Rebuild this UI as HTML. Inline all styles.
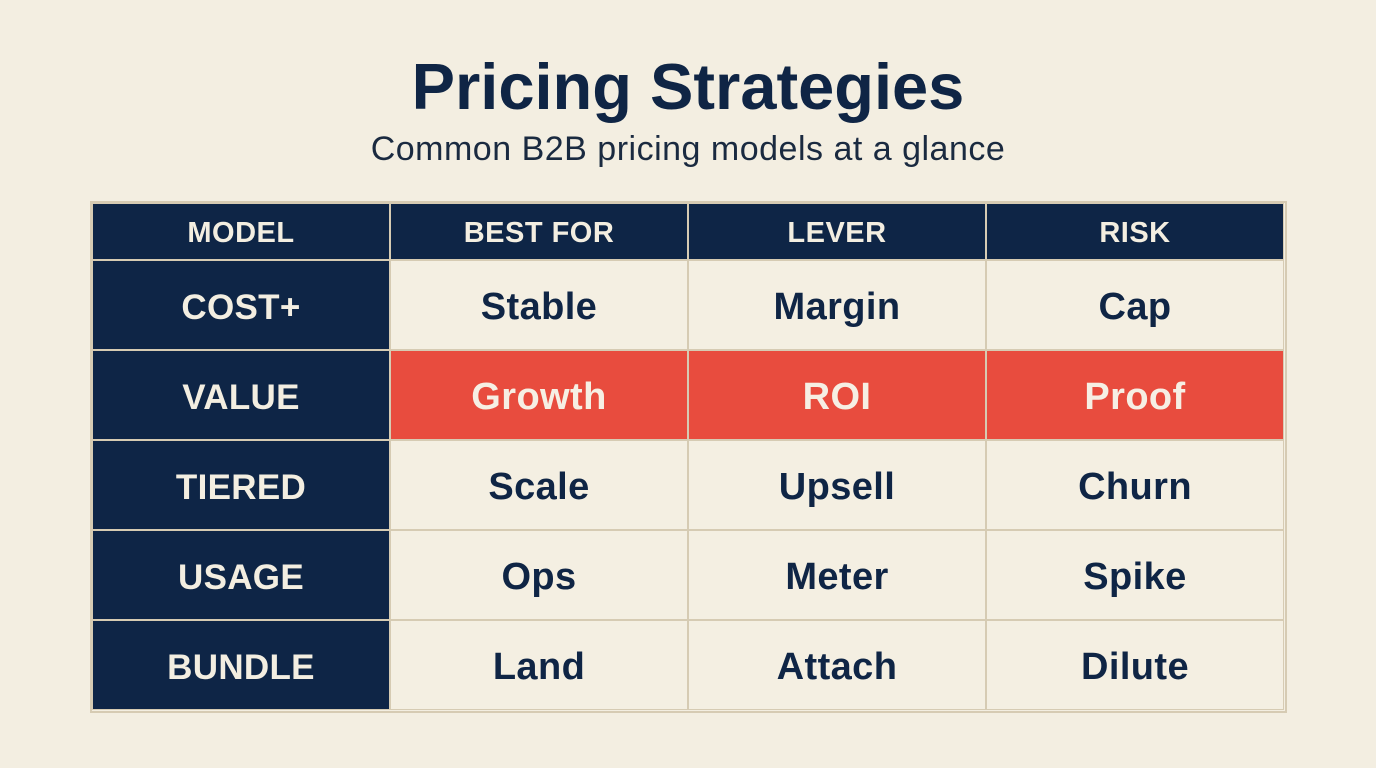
<!DOCTYPE html>
<html><head><meta charset="utf-8"><style>
body{margin:0;width:1376px;height:768px;background:#f3eee1;font-family:"Liberation Sans",sans-serif;position:relative;overflow:hidden}
h1{position:absolute;top:49px;left:0;width:1376px;text-align:center;margin:0;font-size:65px;font-weight:bold;color:#0f2545;line-height:76px}
.sub{position:absolute;top:129px;left:0;width:1376px;text-align:center;font-size:34px;color:#1a2a40;line-height:40px;letter-spacing:0.5px}
.c{position:absolute;display:flex;align-items:center;justify-content:center;font-weight:bold;box-sizing:border-box;border:1px solid #d6cbb3;padding-top:5px}
.h{background:#0e2546;color:#f3eee1;font-size:29px;padding-top:3px;letter-spacing:0.5px}
.m{background:#0e2546;color:#f3eee1;font-size:35px;letter-spacing:0.3px}
.d{background:#f4efe2;color:#0f2545;font-size:38px;letter-spacing:0.4px}
.r{background:#e84c3e;color:#f6efe4;font-size:38px;letter-spacing:0.4px}
</style></head><body>
<h1>Pricing Strategies</h1>
<div class="sub">Common B2B pricing models at a glance</div>
<div id="t"></div>
<script>
const xs=[92,390,688,986,1284],ys=[203,260,350,440,530,620,710];
const rows=[["MODEL","BEST FOR","LEVER","RISK"],["COST+","Stable","Margin","Cap"],["VALUE","Growth","ROI","Proof"],["TIERED","Scale","Upsell","Churn"],["USAGE","Ops","Meter","Spike"],["BUNDLE","Land","Attach","Dilute"]];
let h="";
rows.forEach((r,i)=>r.forEach((t,j)=>{
 let cls=i==0?"h":j==0?"m":i==2?"r":"d";
 h+=`<div class="c ${cls}" style="left:${xs[j]}px;top:${ys[i]}px;width:${xs[j+1]-xs[j]}px;height:${ys[i+1]-ys[i]}px">${t}</div>`;
}));
document.getElementById("t").innerHTML=h;
</script>
<div style="position:absolute;left:91px;top:202px;width:1193px;height:508px;border:2px solid #d6cbb3;box-sizing:content-box;pointer-events:none;margin:-1px"></div>
</body></html>
